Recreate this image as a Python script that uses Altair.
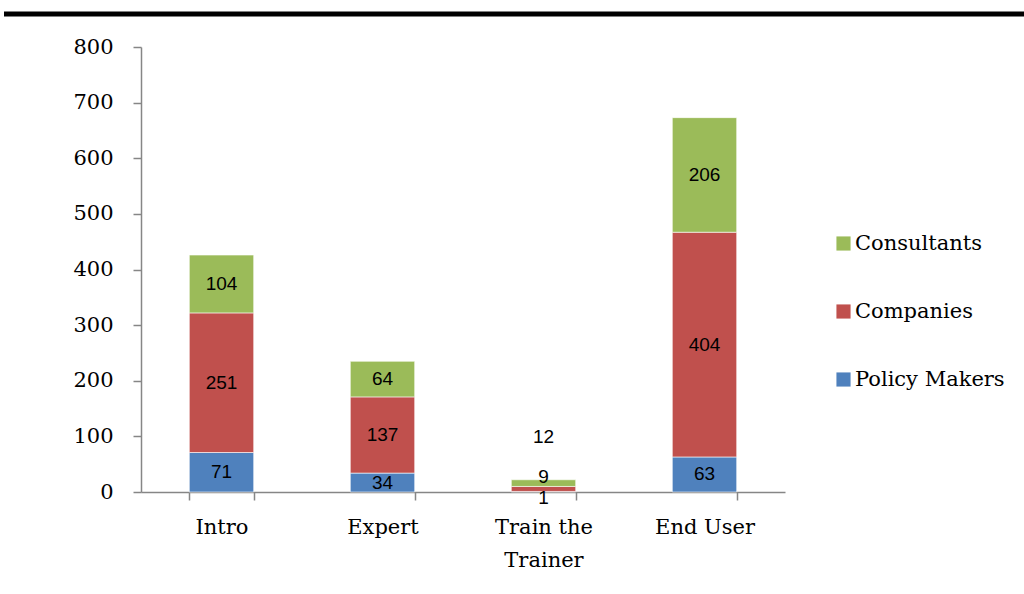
import altair as alt
import pandas as pd

# Course types and participant groups
courses = ["Intro", "Expert", "Train the Trainer", "End User"]
groups = ["Policy Makers", "Companies", "Consultants"]
colors = ["#4F81BD", "#C0504D", "#9BBB59"]

policy_makers = [71, 34, 1, 63]
companies = [251, 137, 9, 404]
consultants = [104, 64, 12, 206]

# Pixel nudges for labels on segments too thin to hold them
label_dy = {
    ("Train the Trainer", "Policy Makers"): 6,
    ("Train the Trainer", "Companies"): -12,
    ("Train the Trainer", "Consultants"): -46,
}

rows = []
for i, c in enumerate(courses):
    for g, vals in zip(groups, [policy_makers, companies, consultants]):
        rows.append({"course": c, "group": g, "order": groups.index(g),
                     "value": vals[i], "dy": label_dy.get((c, g), 0)})
df = pd.DataFrame(rows)

SERIF = "Palatino Linotype, Book Antiqua, DejaVu Serif"
SANS = "Liberation Sans, Arial"

x_enc = alt.X(
    "course:N", sort=courses, title=None,
    scale=alt.Scale(paddingInner=0.6, paddingOuter=0.3),
    axis=alt.Axis(
        labelAngle=0, labelFont=SERIF, labelFontSize=21, labelColor="#000",
        labelPadding=16, labelLineHeight=33, tickBand="extent", tickSize=8,
        tickColor="#868686", domainColor="#868686", domainWidth=1.5, tickWidth=1.5,
        labelExpr="datum.label == 'Train the Trainer' ? ['Train the', 'Trainer'] : datum.label",
    ),
)

base = alt.Chart(df).transform_stack(
    stack="value", groupby=["course"], as_=["y0", "y1"],
    sort=[alt.SortField("order", order="ascending")],
).transform_calculate(mid="(datum.y0 + datum.y1) / 2")

bars = base.mark_bar(stroke="white", strokeWidth=0.6).encode(
    x=x_enc,
    y=alt.Y(
        "y0:Q", title=None,
        scale=alt.Scale(domain=[0, 800], nice=False),
        axis=alt.Axis(
            values=list(range(0, 801, 100)), grid=False, labelFont=SERIF,
            labelFontSize=21, labelColor="#000", labelPadding=20, tickSize=8,
            tickColor="#868686", domainColor="#868686", domainWidth=1.5, tickWidth=1.5,
        ),
    ),
    y2="y1:Q",
    color=alt.Color(
        "group:N", title=None,
        scale=alt.Scale(domain=groups[::-1], range=colors[::-1]),
        legend=alt.Legend(
            orient="none", legendX=692, legendY=186, symbolType="square",
            symbolSize=200, symbolStrokeWidth=0, labelFont=SERIF, labelFontSize=21,
            labelColor="#000", rowPadding=46, labelOffset=1,
        ),
    ),
    order=alt.Order("order:Q"),
)

labels = []
for dy in sorted(set(df["dy"])):
    labels.append(
        base.transform_filter(alt.datum.dy == dy)
        .mark_text(font=SANS, fontSize=19, color="#000", dy=dy, baseline="middle")
        .encode(x=alt.X("course:N", sort=courses), y="mid:Q", text="value:Q")
    )

top_rule = alt.Chart(pd.DataFrame({"k": [0]})).mark_rule(
    color="#000", strokeWidth=5, clip=False
).encode(x=alt.value(-137), x2=alt.value(883), y=alt.value(-33))

chart = alt.layer(bars, *labels, top_rule).properties(
    width=644, height=445, background="white",
    padding={"left": 141, "top": 47, "right": 239, "bottom": 102},
    autosize=alt.AutoSizeParams(type="none"),
).configure_view(strokeWidth=0, stroke="transparent")

chart.save("out.html", embed_options={"renderer": "svg", "actions": False})
